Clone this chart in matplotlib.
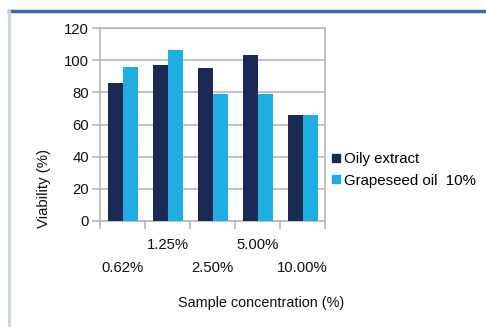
import matplotlib
matplotlib.use('Agg')
from matplotlib import pyplot as plt
from matplotlib.lines import Line2D
import numpy as np

# data
concentrations = ['0.62%', '1.25%', '2.50%', '5.00%', '10.00%']
oily_extract = [85.5, 97.3, 95.2, 103.1, 66]
grapeseed_oil = [96, 106.2, 79, 79, 66]
series_names = ['Oily extract', 'Grapeseed oil  10%']

navy = '#1a2a54'
cyan = '#1eaee3'
grid_col = '#b8b8b8'
txt = '#111111'

plt.rcParams['font.family'] = ['Liberation Sans', 'DejaVu Sans']

fig = plt.figure(figsize=(4.86, 3.27), dpi=100)
ax = fig.add_axes([100 / 486, 1 - 221 / 327, 225 / 486, 193 / 327])

x = np.arange(len(concentrations))
w = 1 / 3
ax.bar(x - w / 2, oily_extract, width=w, color=navy, zorder=3)
ax.bar(x + w / 2, grapeseed_oil, width=w, color=cyan, zorder=3)

ax.set_xlim(-0.5, len(concentrations) - 0.5)
ax.set_ylim(0, 120)
ax.set_yticks(range(0, 121, 20))
ax.yaxis.grid(True, color=grid_col, lw=1.2, zorder=0)
for s in ax.spines.values():
    s.set_color(grid_col)
    s.set_linewidth(1.2)

ax.set_xticks(np.arange(-0.5, len(concentrations), 1))
ax.set_xticklabels([])
ax.tick_params(axis='x', length=6, color=grid_col, width=1.2)
ax.tick_params(axis='y', length=6, color=grid_col, width=1.2, labelsize=10.7,
               labelcolor=txt, pad=2)

# staggered category labels
for i, lab in enumerate(concentrations):
    off = -24 if i % 2 == 1 else -47
    ax.annotate(lab, (i, 0), xytext=(0, off), textcoords='offset pixels',
                xycoords=('data', 'axes fraction'), ha='center', va='center',
                fontsize=10.7, color=txt)

fig.text(261 / 486, 1 - 303 / 327, 'Sample concentration (%)', ha='center',
         va='center', fontsize=10.4, color=txt)
fig.text(44 / 486, 1 - 188 / 327, 'Viability (%)', rotation=90, ha='center',
         va='center', fontsize=10.8, color=txt)

handles = [Line2D([], [], marker='s', ls='', color=navy, markersize=6),
           Line2D([], [], marker='s', ls='', color=cyan, markersize=6)]
fig.legend(handles, series_names, loc='upper left',
           bbox_to_anchor=(322 / 486, 1 - 146 / 327), frameon=False,
           fontsize=10.8, handletextpad=0.05, labelspacing=0.5,
           handlelength=1.0, borderaxespad=0)

# outer frame lines
fig.add_artist(Line2D([9 / 486, 1], [1 - 11 / 327] * 2, color='#3d6aa3', lw=2.5))
fig.add_artist(Line2D([9 / 486] * 2, [0, 1 - 11 / 327], color='#c6d6ea', lw=2))

fig.savefig('out.png', dpi=100)
